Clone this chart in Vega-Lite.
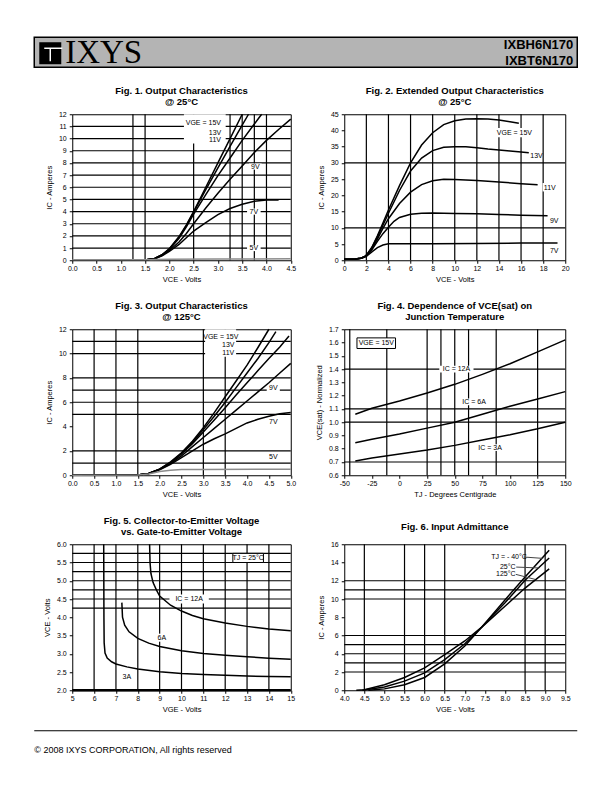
{
"$schema": "https://vega.github.io/schema/vega-lite/v6.json",
"padding": {"left": 33.25, "top": 36.25, "right": 5, "bottom": 5},
"background": "white",
"bounds": "flush",
"spacing": 0,
"vconcat": [
 {
  "width": 543, "height": 30,
  "view": {"fill": "#b4b4b4", "stroke": "black", "strokeWidth": 1.5},
  "layer": [
   {"data": {"values": [{"x": 0.0295, "y": 0.467}]}, "mark": {"type": "square", "filled": true, "color": "black", "size": 484, "opacity": 1},
    "encoding": {"x": {"field": "x", "type": "quantitative", "scale": {"domain": [0, 1], "nice": false, "zero": false}, "axis": null}, "y": {"field": "y", "type": "quantitative", "scale": {"domain": [0, 1], "nice": false, "zero": false}, "axis": null}}},
   {"data": {"values": [{"x": 0.0184, "x2": 0.0516, "y": 0.633, "y2": 0.633}, {"x": 0.0295, "x2": 0.0295, "y": 0.633, "y2": 0.2}]}, "mark": {"type": "rule", "color": "white", "strokeWidth": 1.5},
    "encoding": {"x": {"field": "x", "type": "quantitative", "scale": {"domain": [0, 1], "nice": false, "zero": false}, "axis": null}, "x2": {"field": "x2"}, "y": {"field": "y", "type": "quantitative", "scale": {"domain": [0, 1], "nice": false, "zero": false}, "axis": null}, "y2": {"field": "y2"}}},
   {"data": {"values": [{"x": 0.057, "y": 0.133, "t": "IXYS"}]}, "mark": {"type": "text", "font": "Liberation Serif", "fontSize": 33, "align": "left", "baseline": "alphabetic", "color": "black"},
    "encoding": {"x": {"field": "x", "type": "quantitative", "scale": {"domain": [0, 1], "nice": false, "zero": false}, "axis": null}, "y": {"field": "y", "type": "quantitative", "scale": {"domain": [0, 1], "nice": false, "zero": false}, "axis": null}, "text": {"field": "t"}}},
   {"data": {"values": [{"x": 0.9926, "y": 0.6, "t": "IXBH6N170"}, {"x": 0.9926, "y": 0.075, "t": "IXBT6N170"}]}, "mark": {"type": "text", "font": "Liberation Sans", "fontSize": 13, "fontWeight": "bold", "align": "right", "baseline": "alphabetic", "color": "black"},
    "encoding": {"x": {"field": "x", "type": "quantitative", "scale": {"domain": [0, 1], "nice": false, "zero": false}, "axis": null}, "y": {"field": "y", "type": "quantitative", "scale": {"domain": [0, 1], "nice": false, "zero": false}, "axis": null}, "text": {"field": "t"}}}
  ]
 },
 {"width": 1, "height": 47, "data": {"values": [{}]}, "mark": {"type": "text"}, "encoding": {"text": {"value": ""}}},
 {
  "hconcat": [
   {"width": 37.5, "height": 1, "data": {"values": [{}]}, "mark": {"type": "text"}, "encoding": {"text": {"value": ""}}},
   {
    "width": 218.5, "height": 146,
    "view": {"stroke": "black", "strokeWidth": 1},
    "title": {"text": ["Fig. 1. Output Characteristics", "@ 25°C"]},
    "layer": [
     {"data": {"name": "f1v"}, "mark": {"type": "rule", "color": "black", "strokeWidth": 1.2}, "encoding": {"x": {"field": "x", "type": "quantitative", "title": "VCE - Volts", "scale": {"domain": [0, 4.5], "nice": false, "zero": false}, "axis": {"values": [0, 0.5, 1, 1.5, 2, 2.5, 3, 3.5, 4, 4.5], "format": ".1f"}}}},
     {"data": {"name": "f1h"}, "mark": {"type": "rule", "color": "black", "strokeWidth": 1.2}, "encoding": {"y": {"field": "y", "type": "quantitative", "title": "IC - Amperes", "scale": {"domain": [0, 12], "nice": false, "zero": false}, "axis": {"values": [0, 1, 2, 3, 4, 5, 6, 7, 8, 9, 10, 11, 12]}}}},
     {"data": {"name": "f1b"}, "mark": {"type": "rect", "fill": "white"}, "encoding": {"x": {"field": "x", "type": "quantitative", "title": "VCE - Volts", "scale": {"domain": [0, 4.5], "nice": false, "zero": false}, "axis": {"values": [0, 0.5, 1, 1.5, 2, 2.5, 3, 3.5, 4, 4.5], "format": ".1f"}}, "x2": {"field": "x2"}, "y": {"field": "y", "type": "quantitative", "title": "IC - Amperes", "scale": {"domain": [0, 12], "nice": false, "zero": false}, "axis": {"values": [0, 1, 2, 3, 4, 5, 6, 7, 8, 9, 10, 11, 12]}}, "y2": {"field": "y2"}}},
     {"data": {"name": "f1c"}, "mark": {"type": "line", "strokeWidth": 1.5},
      "encoding": {
       "x": {"field": "x", "type": "quantitative", "title": "VCE - Volts", "scale": {"domain": [0, 4.5], "nice": false, "zero": false}, "axis": {"values": [0, 0.5, 1, 1.5, 2, 2.5, 3, 3.5, 4, 4.5], "format": ".1f"}},
       "y": {"field": "y", "type": "quantitative", "title": "IC - Amperes", "scale": {"domain": [0, 12], "nice": false, "zero": false}, "axis": {"values": [0, 1, 2, 3, 4, 5, 6, 7, 8, 9, 10, 11, 12]}},
       "color": {"field": "s", "type": "nominal", "scale": {"domain": ["15V", "13V", "11V", "9V", "7V", "5V"], "range": ["black", "black", "black", "black", "black", "#8c8c8c"]}, "legend": null}}},
     {"data": {"name": "f1t"}, "mark": {"type": "text"}, "encoding": {"x": {"field": "x", "type": "quantitative", "title": "VCE - Volts", "scale": {"domain": [0, 4.5], "nice": false, "zero": false}, "axis": {"values": [0, 0.5, 1, 1.5, 2, 2.5, 3, 3.5, 4, 4.5], "format": ".1f"}}, "y": {"field": "y", "type": "quantitative", "title": "IC - Amperes", "scale": {"domain": [0, 12], "nice": false, "zero": false}, "axis": {"values": [0, 1, 2, 3, 4, 5, 6, 7, 8, 9, 10, 11, 12]}}, "text": {"field": "t"}}}
    ]
   },
   {"width": 53, "height": 1, "data": {"values": [{}]}, "mark": {"type": "text"}, "encoding": {"text": {"value": ""}}},
   {
    "width": 221, "height": 146,
    "view": {"stroke": "black", "strokeWidth": 1},
    "title": {"text": ["Fig. 2. Extended Output Characteristics", "@ 25°C"]},
    "layer": [
     {"data": {"name": "f2v"}, "mark": {"type": "rule", "color": "black", "strokeWidth": 1.2}, "encoding": {"x": {"field": "x", "type": "quantitative", "title": "VCE - Volts", "scale": {"domain": [0, 20], "nice": false, "zero": false}, "axis": {"values": [0, 2, 4, 6, 8, 10, 12, 14, 16, 18, 20]}}}},
     {"data": {"name": "f2h"}, "mark": {"type": "rule", "color": "black", "strokeWidth": 1.2}, "encoding": {"y": {"field": "y", "type": "quantitative", "title": "IC - Amperes", "scale": {"domain": [0, 45], "nice": false, "zero": false}, "axis": {"values": [0, 5, 10, 15, 20, 25, 30, 35, 40, 45]}}}},
     {"data": {"name": "f2b"}, "mark": {"type": "rect", "fill": "white"}, "encoding": {"x": {"field": "x", "type": "quantitative", "title": "VCE - Volts", "scale": {"domain": [0, 20], "nice": false, "zero": false}, "axis": {"values": [0, 2, 4, 6, 8, 10, 12, 14, 16, 18, 20]}}, "x2": {"field": "x2"}, "y": {"field": "y", "type": "quantitative", "title": "IC - Amperes", "scale": {"domain": [0, 45], "nice": false, "zero": false}, "axis": {"values": [0, 5, 10, 15, 20, 25, 30, 35, 40, 45]}}, "y2": {"field": "y2"}}},
     {"data": {"name": "f2c"}, "mark": {"type": "line", "strokeWidth": 1.5, "color": "black"},
      "encoding": {
       "x": {"field": "x", "type": "quantitative", "title": "VCE - Volts", "scale": {"domain": [0, 20], "nice": false, "zero": false}, "axis": {"values": [0, 2, 4, 6, 8, 10, 12, 14, 16, 18, 20]}},
       "y": {"field": "y", "type": "quantitative", "title": "IC - Amperes", "scale": {"domain": [0, 45], "nice": false, "zero": false}, "axis": {"values": [0, 5, 10, 15, 20, 25, 30, 35, 40, 45]}},
       "detail": {"field": "s", "type": "nominal"}}},
     {"data": {"name": "f2t"}, "mark": {"type": "text"}, "encoding": {"x": {"field": "x", "type": "quantitative", "title": "VCE - Volts", "scale": {"domain": [0, 20], "nice": false, "zero": false}, "axis": {"values": [0, 2, 4, 6, 8, 10, 12, 14, 16, 18, 20]}}, "y": {"field": "y", "type": "quantitative", "title": "IC - Amperes", "scale": {"domain": [0, 45], "nice": false, "zero": false}, "axis": {"values": [0, 5, 10, 15, 20, 25, 30, 35, 40, 45]}}, "text": {"field": "t"}}}
    ]
   }
  ],
  "spacing": 0, "bounds": "flush"
 },
 {"width": 1, "height": 215, "data": {"values": [{}]}, "mark": {"type": "text"}, "encoding": {"text": {"value": ""}}},
 {
  "hconcat": [
   {"width": 37.5, "height": 1, "data": {"values": [{}]}, "mark": {"type": "text"}, "encoding": {"text": {"value": ""}}},
   {
    "width": 218.5, "height": 146,
    "view": {"stroke": "black", "strokeWidth": 1},
    "title": {"text": ["Fig. 3. Output Characteristics", "@ 125°C"]},
    "layer": [
     {"data": {"name": "f3v"}, "mark": {"type": "rule", "color": "black", "strokeWidth": 1.2}, "encoding": {"x": {"field": "x", "type": "quantitative", "title": "VCE - Volts", "scale": {"domain": [0, 5], "nice": false, "zero": false}, "axis": {"values": [0, 0.5, 1, 1.5, 2, 2.5, 3, 3.5, 4, 4.5, 5], "format": ".1f"}}}},
     {"data": {"name": "f3h"}, "mark": {"type": "rule", "color": "black", "strokeWidth": 1.2}, "encoding": {"y": {"field": "y", "type": "quantitative", "title": "IC - Amperes", "scale": {"domain": [0, 12], "nice": false, "zero": false}, "axis": {"values": [0, 2, 4, 6, 8, 10, 12]}}}},
     {"data": {"name": "f3b"}, "mark": {"type": "rect", "fill": "white"}, "encoding": {"x": {"field": "x", "type": "quantitative", "title": "VCE - Volts", "scale": {"domain": [0, 5], "nice": false, "zero": false}, "axis": {"values": [0, 0.5, 1, 1.5, 2, 2.5, 3, 3.5, 4, 4.5, 5], "format": ".1f"}}, "x2": {"field": "x2"}, "y": {"field": "y", "type": "quantitative", "title": "IC - Amperes", "scale": {"domain": [0, 12], "nice": false, "zero": false}, "axis": {"values": [0, 2, 4, 6, 8, 10, 12]}}, "y2": {"field": "y2"}}},
     {"data": {"name": "f3c"}, "mark": {"type": "line", "strokeWidth": 1.5},
      "encoding": {
       "x": {"field": "x", "type": "quantitative", "title": "VCE - Volts", "scale": {"domain": [0, 5], "nice": false, "zero": false}, "axis": {"values": [0, 0.5, 1, 1.5, 2, 2.5, 3, 3.5, 4, 4.5, 5], "format": ".1f"}},
       "y": {"field": "y", "type": "quantitative", "title": "IC - Amperes", "scale": {"domain": [0, 12], "nice": false, "zero": false}, "axis": {"values": [0, 2, 4, 6, 8, 10, 12]}},
       "color": {"field": "s", "type": "nominal", "scale": {"domain": ["15V", "13V", "11V", "9V", "7V", "5V"], "range": ["black", "black", "black", "black", "black", "#555555"]}, "legend": null}}},
     {"data": {"name": "f3t"}, "mark": {"type": "text"}, "encoding": {"x": {"field": "x", "type": "quantitative", "title": "VCE - Volts", "scale": {"domain": [0, 5], "nice": false, "zero": false}, "axis": {"values": [0, 0.5, 1, 1.5, 2, 2.5, 3, 3.5, 4, 4.5, 5], "format": ".1f"}}, "y": {"field": "y", "type": "quantitative", "title": "IC - Amperes", "scale": {"domain": [0, 12], "nice": false, "zero": false}, "axis": {"values": [0, 2, 4, 6, 8, 10, 12]}}, "text": {"field": "t"}}}
    ]
   },
   {"width": 53, "height": 1, "data": {"values": [{}]}, "mark": {"type": "text"}, "encoding": {"text": {"value": ""}}},
   {
    "width": 221, "height": 146,
    "view": {"stroke": "black", "strokeWidth": 1},
    "title": {"text": ["Fig. 4. Dependence of VCE(sat) on", "Junction Temperature"]},
    "layer": [
     {"data": {"name": "f4v"}, "mark": {"type": "rule", "color": "black", "strokeWidth": 1.2}, "encoding": {"x": {"field": "x", "type": "quantitative", "title": "TJ - Degrees Centigrade", "scale": {"domain": [-50, 150], "nice": false, "zero": false}, "axis": {"values": [-50, -25, 0, 25, 50, 75, 100, 125, 150], "labelExpr": "replace(datum.label, '−', '-')"}}}},
     {"data": {"name": "f4h"}, "mark": {"type": "rule", "color": "black", "strokeWidth": 1.2}, "encoding": {"y": {"field": "y", "type": "quantitative", "title": "VCE(sat) - Normalized", "scale": {"domain": [0.6, 1.7], "nice": false, "zero": false}, "axis": {"values": [0.6, 0.7, 0.8, 0.9, 1.0, 1.1, 1.2, 1.3, 1.4, 1.5, 1.6, 1.7], "format": ".1f"}}}},
     {"data": {"name": "f4b"}, "mark": {"type": "rect", "fill": "white"}, "encoding": {"x": {"field": "x", "type": "quantitative", "title": "TJ - Degrees Centigrade", "scale": {"domain": [-50, 150], "nice": false, "zero": false}, "axis": {"values": [-50, -25, 0, 25, 50, 75, 100, 125, 150], "labelExpr": "replace(datum.label, '−', '-')"}}, "x2": {"field": "x2"}, "y": {"field": "y", "type": "quantitative", "title": "VCE(sat) - Normalized", "scale": {"domain": [0.6, 1.7], "nice": false, "zero": false}, "axis": {"values": [0.6, 0.7, 0.8, 0.9, 1.0, 1.1, 1.2, 1.3, 1.4, 1.5, 1.6, 1.7], "format": ".1f"}}, "y2": {"field": "y2"}}},
     {"data": {"name": "f4k"}, "mark": {"type": "rect", "fill": "white", "stroke": "black", "strokeWidth": 1}, "encoding": {"x": {"field": "x", "type": "quantitative", "title": "TJ - Degrees Centigrade", "scale": {"domain": [-50, 150], "nice": false, "zero": false}, "axis": {"values": [-50, -25, 0, 25, 50, 75, 100, 125, 150], "labelExpr": "replace(datum.label, '−', '-')"}}, "x2": {"field": "x2"}, "y": {"field": "y", "type": "quantitative", "title": "VCE(sat) - Normalized", "scale": {"domain": [0.6, 1.7], "nice": false, "zero": false}, "axis": {"values": [0.6, 0.7, 0.8, 0.9, 1.0, 1.1, 1.2, 1.3, 1.4, 1.5, 1.6, 1.7], "format": ".1f"}}, "y2": {"field": "y2"}}},
     {"data": {"name": "f4c"}, "mark": {"type": "line", "strokeWidth": 1.5, "color": "black"},
      "encoding": {
       "x": {"field": "x", "type": "quantitative", "title": "TJ - Degrees Centigrade", "scale": {"domain": [-50, 150], "nice": false, "zero": false}, "axis": {"values": [-50, -25, 0, 25, 50, 75, 100, 125, 150], "labelExpr": "replace(datum.label, '−', '-')"}},
       "y": {"field": "y", "type": "quantitative", "title": "VCE(sat) - Normalized", "scale": {"domain": [0.6, 1.7], "nice": false, "zero": false}, "axis": {"values": [0.6, 0.7, 0.8, 0.9, 1.0, 1.1, 1.2, 1.3, 1.4, 1.5, 1.6, 1.7], "format": ".1f"}},
       "detail": {"field": "s", "type": "nominal"}}},
     {"data": {"name": "f4t"}, "mark": {"type": "text"}, "encoding": {"x": {"field": "x", "type": "quantitative", "title": "TJ - Degrees Centigrade", "scale": {"domain": [-50, 150], "nice": false, "zero": false}, "axis": {"values": [-50, -25, 0, 25, 50, 75, 100, 125, 150], "labelExpr": "replace(datum.label, '−', '-')"}}, "y": {"field": "y", "type": "quantitative", "title": "VCE(sat) - Normalized", "scale": {"domain": [0.6, 1.7], "nice": false, "zero": false}, "axis": {"values": [0.6, 0.7, 0.8, 0.9, 1.0, 1.1, 1.2, 1.3, 1.4, 1.5, 1.6, 1.7], "format": ".1f"}}, "text": {"field": "t"}}}
    ]
   }
  ],
  "spacing": 0, "bounds": "flush"
 },
 {"width": 1, "height": 215, "data": {"values": [{}]}, "mark": {"type": "text"}, "encoding": {"text": {"value": ""}}},
 {
  "hconcat": [
   {"width": 37.5, "height": 1, "data": {"values": [{}]}, "mark": {"type": "text"}, "encoding": {"text": {"value": ""}}},
   {
    "width": 218.5, "height": 146,
    "view": {"stroke": "black", "strokeWidth": 1},
    "title": {"text": ["Fig. 5. Collector-to-Emitter Voltage", "vs. Gate-to-Emitter Voltage"]},
    "layer": [
     {"data": {"name": "f5v"}, "mark": {"type": "rule", "color": "black", "strokeWidth": 1.2}, "encoding": {"x": {"field": "x", "type": "quantitative", "title": "VGE - Volts", "scale": {"domain": [5, 15], "nice": false, "zero": false}, "axis": {"values": [5, 6, 7, 8, 9, 10, 11, 12, 13, 14, 15]}}}},
     {"data": {"name": "f5h"}, "mark": {"type": "rule", "color": "black", "strokeWidth": 1.2}, "encoding": {"y": {"field": "y", "type": "quantitative", "title": "VCE - Volts", "scale": {"domain": [2, 6], "nice": false, "zero": false}, "axis": {"values": [2, 2.5, 3, 3.5, 4, 4.5, 5, 5.5, 6], "format": ".1f"}}}},
     {"data": {"name": "f5z"}, "mark": {"type": "rule", "color": "black", "strokeWidth": 2.5}, "encoding": {"y": {"field": "y", "type": "quantitative", "title": "VCE - Volts", "scale": {"domain": [2, 6], "nice": false, "zero": false}, "axis": {"values": [2, 2.5, 3, 3.5, 4, 4.5, 5, 5.5, 6], "format": ".1f"}}}},
     {"data": {"name": "f5b"}, "mark": {"type": "rect", "fill": "white"}, "encoding": {"x": {"field": "x", "type": "quantitative", "title": "VGE - Volts", "scale": {"domain": [5, 15], "nice": false, "zero": false}, "axis": {"values": [5, 6, 7, 8, 9, 10, 11, 12, 13, 14, 15]}}, "x2": {"field": "x2"}, "y": {"field": "y", "type": "quantitative", "title": "VCE - Volts", "scale": {"domain": [2, 6], "nice": false, "zero": false}, "axis": {"values": [2, 2.5, 3, 3.5, 4, 4.5, 5, 5.5, 6], "format": ".1f"}}, "y2": {"field": "y2"}}},
     {"data": {"name": "f5k"}, "mark": {"type": "rect", "fill": "white", "stroke": "black", "strokeWidth": 1}, "encoding": {"x": {"field": "x", "type": "quantitative", "title": "VGE - Volts", "scale": {"domain": [5, 15], "nice": false, "zero": false}, "axis": {"values": [5, 6, 7, 8, 9, 10, 11, 12, 13, 14, 15]}}, "x2": {"field": "x2"}, "y": {"field": "y", "type": "quantitative", "title": "VCE - Volts", "scale": {"domain": [2, 6], "nice": false, "zero": false}, "axis": {"values": [2, 2.5, 3, 3.5, 4, 4.5, 5, 5.5, 6], "format": ".1f"}}, "y2": {"field": "y2"}}},
     {"data": {"name": "f5c"}, "mark": {"type": "line", "strokeWidth": 1.5, "color": "black"},
      "encoding": {
       "x": {"field": "x", "type": "quantitative", "title": "VGE - Volts", "scale": {"domain": [5, 15], "nice": false, "zero": false}, "axis": {"values": [5, 6, 7, 8, 9, 10, 11, 12, 13, 14, 15]}},
       "y": {"field": "y", "type": "quantitative", "title": "VCE - Volts", "scale": {"domain": [2, 6], "nice": false, "zero": false}, "axis": {"values": [2, 2.5, 3, 3.5, 4, 4.5, 5, 5.5, 6], "format": ".1f"}},
       "detail": {"field": "s", "type": "nominal"}}},
     {"data": {"name": "f5t"}, "mark": {"type": "text"}, "encoding": {"x": {"field": "x", "type": "quantitative", "title": "VGE - Volts", "scale": {"domain": [5, 15], "nice": false, "zero": false}, "axis": {"values": [5, 6, 7, 8, 9, 10, 11, 12, 13, 14, 15]}}, "y": {"field": "y", "type": "quantitative", "title": "VCE - Volts", "scale": {"domain": [2, 6], "nice": false, "zero": false}, "axis": {"values": [2, 2.5, 3, 3.5, 4, 4.5, 5, 5.5, 6], "format": ".1f"}}, "text": {"field": "t"}}}
    ]
   },
   {"width": 53, "height": 1, "data": {"values": [{}]}, "mark": {"type": "text"}, "encoding": {"text": {"value": ""}}},
   {
    "width": 221, "height": 146,
    "view": {"stroke": "black", "strokeWidth": 1},
    "title": {"text": "Fig. 6. Input Admittance", "offset": 8.8},
    "layer": [
     {"data": {"name": "f6v"}, "mark": {"type": "rule", "color": "black", "strokeWidth": 1.2}, "encoding": {"x": {"field": "x", "type": "quantitative", "title": "VGE - Volts", "scale": {"domain": [4, 9.5], "nice": false, "zero": false}, "axis": {"values": [4, 4.5, 5, 5.5, 6, 6.5, 7, 7.5, 8, 8.5, 9, 9.5], "format": ".1f"}}}},
     {"data": {"name": "f6h"}, "mark": {"type": "rule", "color": "black", "strokeWidth": 1.2}, "encoding": {"y": {"field": "y", "type": "quantitative", "title": "IC - Amperes", "scale": {"domain": [0, 16], "nice": false, "zero": false}, "axis": {"values": [0, 2, 4, 6, 8, 10, 12, 14, 16]}}}},
     {"data": {"name": "f6c"}, "mark": {"type": "line", "strokeWidth": 1.5, "color": "black"},
      "encoding": {
       "x": {"field": "x", "type": "quantitative", "title": "VGE - Volts", "scale": {"domain": [4, 9.5], "nice": false, "zero": false}, "axis": {"values": [4, 4.5, 5, 5.5, 6, 6.5, 7, 7.5, 8, 8.5, 9, 9.5], "format": ".1f"}},
       "y": {"field": "y", "type": "quantitative", "title": "IC - Amperes", "scale": {"domain": [0, 16], "nice": false, "zero": false}, "axis": {"values": [0, 2, 4, 6, 8, 10, 12, 14, 16]}},
       "detail": {"field": "s", "type": "nominal"}}},
     {"data": {"name": "f6l"}, "mark": {"type": "rule", "color": "#444444", "strokeWidth": 1}, "encoding": {"x": {"field": "x", "type": "quantitative", "title": "VGE - Volts", "scale": {"domain": [4, 9.5], "nice": false, "zero": false}, "axis": {"values": [4, 4.5, 5, 5.5, 6, 6.5, 7, 7.5, 8, 8.5, 9, 9.5], "format": ".1f"}}, "x2": {"field": "x2"}, "y": {"field": "y", "type": "quantitative", "title": "IC - Amperes", "scale": {"domain": [0, 16], "nice": false, "zero": false}, "axis": {"values": [0, 2, 4, 6, 8, 10, 12, 14, 16]}}, "y2": {"field": "y2"}}},
     {"data": {"name": "f6t"}, "mark": {"type": "text"}, "encoding": {"x": {"field": "x", "type": "quantitative", "title": "VGE - Volts", "scale": {"domain": [4, 9.5], "nice": false, "zero": false}, "axis": {"values": [4, 4.5, 5, 5.5, 6, 6.5, 7, 7.5, 8, 8.5, 9, 9.5], "format": ".1f"}}, "y": {"field": "y", "type": "quantitative", "title": "IC - Amperes", "scale": {"domain": [0, 16], "nice": false, "zero": false}, "axis": {"values": [0, 2, 4, 6, 8, 10, 12, 14, 16]}}, "text": {"field": "t"}}}
    ]
   }
  ],
  "spacing": 0, "bounds": "flush"
 },
 {"width": 1, "height": 186, "data": {"values": [{}]}, "mark": {"type": "text"}, "encoding": {"text": {"value": ""}}},
 {
  "width": 543, "height": 1,
  "view": {"fill": "black", "stroke": null},
  "title": {"text": "© 2008 IXYS CORPORATION,  All rights reserved", "orient": "bottom", "anchor": "start", "frame": "group", "fontSize": 9, "fontWeight": "normal", "offset": 12, "baseline": "top"},
  "data": {"values": [{}]}, "mark": {"type": "text"}, "encoding": {"text": {"value": ""}}
 }
],
"datasets": {
 "f1v": [{"x": 1.25}, {"x": 1.5}, {"x": 2.5}, {"x": 3.25}, {"x": 3.5}, {"x": 3.75}, {"x": 4.0}],
 "f1h": [{"y": 1}, {"y": 2}, {"y": 3}, {"y": 4}, {"y": 5}, {"y": 6}, {"y": 7}, {"y": 8}, {"y": 9}, {"y": 10}, {"y": 11}],
 "f1b": [{"x": 2.3, "x2": 3.16, "y": 9.6, "y2": 12}, {"x": 3.64, "x2": 3.9, "y": 7.45, "y2": 7.95}, {"x": 3.6, "x2": 3.88, "y": 3.75, "y2": 4.25}, {"x": 3.6, "x2": 3.88, "y": 0.75, "y2": 1.25}],
 "f1t": [{"t": "VGE = 15V", "x": 2.7, "y": 11.25}, {"t": "13V", "x": 2.94, "y": 10.5}, {"t": "11V", "x": 2.94, "y": 9.9}, {"t": "9V", "x": 3.77, "y": 7.7}, {"t": "7V", "x": 3.74, "y": 4.0}, {"t": "5V", "x": 3.74, "y": 1.0}],
 "f1c": [
  {"s": "15V", "x": 0, "y": 0}, {"s": "15V", "x": 1.3, "y": 0}, {"s": "15V", "x": 1.5, "y": 0.03}, {"s": "15V", "x": 1.7, "y": 0.15}, {"s": "15V", "x": 1.85, "y": 0.45}, {"s": "15V", "x": 2.0, "y": 0.95}, {"s": "15V", "x": 2.2, "y": 1.95}, {"s": "15V", "x": 2.35, "y": 2.9}, {"s": "15V", "x": 2.5, "y": 4.0}, {"s": "15V", "x": 2.75, "y": 6.0}, {"s": "15V", "x": 3.0, "y": 8.0}, {"s": "15V", "x": 3.25, "y": 10.0}, {"s": "15V", "x": 3.5, "y": 12.0},
  {"s": "13V", "x": 0, "y": 0}, {"s": "13V", "x": 1.3, "y": 0}, {"s": "13V", "x": 1.5, "y": 0.03}, {"s": "13V", "x": 1.7, "y": 0.15}, {"s": "13V", "x": 1.85, "y": 0.45}, {"s": "13V", "x": 2.0, "y": 0.92}, {"s": "13V", "x": 2.2, "y": 1.9}, {"s": "13V", "x": 2.35, "y": 2.85}, {"s": "13V", "x": 2.5, "y": 3.95}, {"s": "13V", "x": 2.75, "y": 5.8}, {"s": "13V", "x": 3.0, "y": 7.6}, {"s": "13V", "x": 3.25, "y": 9.35}, {"s": "13V", "x": 3.5, "y": 11.1}, {"s": "13V", "x": 3.63, "y": 12.0},
  {"s": "11V", "x": 0, "y": 0}, {"s": "11V", "x": 1.3, "y": 0}, {"s": "11V", "x": 1.5, "y": 0.03}, {"s": "11V", "x": 1.7, "y": 0.15}, {"s": "11V", "x": 1.85, "y": 0.44}, {"s": "11V", "x": 2.0, "y": 0.88}, {"s": "11V", "x": 2.2, "y": 1.8}, {"s": "11V", "x": 2.35, "y": 2.75}, {"s": "11V", "x": 2.5, "y": 3.8}, {"s": "11V", "x": 2.75, "y": 5.4}, {"s": "11V", "x": 3.0, "y": 6.95}, {"s": "11V", "x": 3.25, "y": 8.4}, {"s": "11V", "x": 3.5, "y": 9.85}, {"s": "11V", "x": 3.75, "y": 11.2}, {"s": "11V", "x": 3.9, "y": 12.0},
  {"s": "9V", "x": 0, "y": 0}, {"s": "9V", "x": 1.3, "y": 0}, {"s": "9V", "x": 1.5, "y": 0.03}, {"s": "9V", "x": 1.7, "y": 0.14}, {"s": "9V", "x": 1.85, "y": 0.4}, {"s": "9V", "x": 2.0, "y": 0.8}, {"s": "9V", "x": 2.2, "y": 1.5}, {"s": "9V", "x": 2.35, "y": 2.2}, {"s": "9V", "x": 2.5, "y": 3.0}, {"s": "9V", "x": 2.75, "y": 4.3}, {"s": "9V", "x": 3.0, "y": 5.5}, {"s": "9V", "x": 3.25, "y": 6.65}, {"s": "9V", "x": 3.5, "y": 7.75}, {"s": "9V", "x": 3.75, "y": 8.85}, {"s": "9V", "x": 4.0, "y": 9.85}, {"s": "9V", "x": 4.25, "y": 10.75}, {"s": "9V", "x": 4.5, "y": 11.6},
  {"s": "7V", "x": 0, "y": 0}, {"s": "7V", "x": 1.3, "y": 0}, {"s": "7V", "x": 1.5, "y": 0.03}, {"s": "7V", "x": 1.7, "y": 0.13}, {"s": "7V", "x": 1.85, "y": 0.37}, {"s": "7V", "x": 2.0, "y": 0.72}, {"s": "7V", "x": 2.2, "y": 1.3}, {"s": "7V", "x": 2.35, "y": 1.85}, {"s": "7V", "x": 2.5, "y": 2.4}, {"s": "7V", "x": 2.75, "y": 3.1}, {"s": "7V", "x": 3.0, "y": 3.75}, {"s": "7V", "x": 3.25, "y": 4.25}, {"s": "7V", "x": 3.5, "y": 4.6}, {"s": "7V", "x": 3.75, "y": 4.85}, {"s": "7V", "x": 4.0, "y": 4.95}, {"s": "7V", "x": 4.25, "y": 4.95},
  {"s": "5V", "x": 0, "y": 0.04}, {"s": "5V", "x": 1.5, "y": 0.05}, {"s": "5V", "x": 2.0, "y": 0.08}, {"s": "5V", "x": 3.0, "y": 0.1}, {"s": "5V", "x": 4.5, "y": 0.12}
 ],
 "f2v": [{"x": 2}, {"x": 4}, {"x": 6}, {"x": 8}, {"x": 10}, {"x": 12}, {"x": 14}, {"x": 16}, {"x": 18}],
 "f2h": [{"y": 10}, {"y": 30}],
 "f2b": [{"x": 13.8, "x2": 17.0, "y": 37.9, "y2": 40.8}, {"x": 17.95, "x2": 19.25, "y": 21.2, "y2": 23.8}],
 "f2t": [{"t": "VGE = 15V", "x": 15.4, "y": 39.3}, {"t": "13V", "x": 17.4, "y": 32.1}, {"t": "11V", "x": 18.6, "y": 22.4}, {"t": "9V", "x": 19.0, "y": 12.0}, {"t": "7V", "x": 19.0, "y": 2.9}],
 "f2c": [
  {"s": "15V", "x": 0, "y": 0.3}, {"s": "15V", "x": 1.0, "y": 0.4}, {"s": "15V", "x": 1.5, "y": 0.6}, {"s": "15V", "x": 1.8, "y": 1.0}, {"s": "15V", "x": 2.0, "y": 1.6}, {"s": "15V", "x": 2.5, "y": 4.0}, {"s": "15V", "x": 3.0, "y": 7.5}, {"s": "15V", "x": 3.5, "y": 11.5}, {"s": "15V", "x": 4.0, "y": 15.5}, {"s": "15V", "x": 5.0, "y": 23.0}, {"s": "15V", "x": 6.0, "y": 30.0}, {"s": "15V", "x": 7.0, "y": 35.5}, {"s": "15V", "x": 8.0, "y": 39.3}, {"s": "15V", "x": 9.0, "y": 41.8}, {"s": "15V", "x": 10.0, "y": 43.0}, {"s": "15V", "x": 11.0, "y": 43.5}, {"s": "15V", "x": 12.0, "y": 43.6}, {"s": "15V", "x": 13.0, "y": 43.5}, {"s": "15V", "x": 14.0, "y": 43.2}, {"s": "15V", "x": 15.0, "y": 42.7}, {"s": "15V", "x": 15.8, "y": 42.2},
  {"s": "13V", "x": 0, "y": 0.3}, {"s": "13V", "x": 1.0, "y": 0.4}, {"s": "13V", "x": 1.5, "y": 0.6}, {"s": "13V", "x": 1.8, "y": 1.0}, {"s": "13V", "x": 2.0, "y": 1.5}, {"s": "13V", "x": 2.5, "y": 3.8}, {"s": "13V", "x": 3.0, "y": 7.2}, {"s": "13V", "x": 3.5, "y": 10.8}, {"s": "13V", "x": 4.0, "y": 14.5}, {"s": "13V", "x": 5.0, "y": 21.5}, {"s": "13V", "x": 6.0, "y": 27.5}, {"s": "13V", "x": 7.0, "y": 31.5}, {"s": "13V", "x": 8.0, "y": 33.8}, {"s": "13V", "x": 9.0, "y": 34.8}, {"s": "13V", "x": 10.0, "y": 35.0}, {"s": "13V", "x": 11.0, "y": 35.0}, {"s": "13V", "x": 12.0, "y": 34.7}, {"s": "13V", "x": 13.0, "y": 34.3}, {"s": "13V", "x": 14.0, "y": 34.0}, {"s": "13V", "x": 15.0, "y": 33.7}, {"s": "13V", "x": 16.0, "y": 33.4}, {"s": "13V", "x": 16.7, "y": 33.1},
  {"s": "11V", "x": 0, "y": 0.3}, {"s": "11V", "x": 1.0, "y": 0.4}, {"s": "11V", "x": 1.5, "y": 0.6}, {"s": "11V", "x": 1.8, "y": 1.0}, {"s": "11V", "x": 2.0, "y": 1.4}, {"s": "11V", "x": 2.5, "y": 3.5}, {"s": "11V", "x": 3.0, "y": 6.5}, {"s": "11V", "x": 3.5, "y": 9.8}, {"s": "11V", "x": 4.0, "y": 12.8}, {"s": "11V", "x": 5.0, "y": 17.5}, {"s": "11V", "x": 6.0, "y": 21.0}, {"s": "11V", "x": 7.0, "y": 23.3}, {"s": "11V", "x": 8.0, "y": 24.5}, {"s": "11V", "x": 9.0, "y": 25.0}, {"s": "11V", "x": 10.0, "y": 24.9}, {"s": "11V", "x": 12.0, "y": 24.6}, {"s": "11V", "x": 14.0, "y": 24.1}, {"s": "11V", "x": 16.0, "y": 23.6}, {"s": "11V", "x": 17.5, "y": 23.3},
  {"s": "9V", "x": 0, "y": 0.3}, {"s": "9V", "x": 1.0, "y": 0.4}, {"s": "9V", "x": 1.5, "y": 0.6}, {"s": "9V", "x": 1.8, "y": 1.0}, {"s": "9V", "x": 2.0, "y": 1.3}, {"s": "9V", "x": 2.5, "y": 3.2}, {"s": "9V", "x": 3.0, "y": 5.8}, {"s": "9V", "x": 3.5, "y": 8.2}, {"s": "9V", "x": 4.0, "y": 10.2}, {"s": "9V", "x": 4.5, "y": 12.0}, {"s": "9V", "x": 5.0, "y": 13.2}, {"s": "9V", "x": 6.0, "y": 14.2}, {"s": "9V", "x": 7.0, "y": 14.5}, {"s": "9V", "x": 8.0, "y": 14.6}, {"s": "9V", "x": 10.0, "y": 14.4}, {"s": "9V", "x": 12.0, "y": 14.3}, {"s": "9V", "x": 14.0, "y": 14.1}, {"s": "9V", "x": 16.0, "y": 13.9}, {"s": "9V", "x": 18.4, "y": 13.7},
  {"s": "7V", "x": 0, "y": 0.3}, {"s": "7V", "x": 1.0, "y": 0.4}, {"s": "7V", "x": 1.5, "y": 0.6}, {"s": "7V", "x": 1.8, "y": 1.0}, {"s": "7V", "x": 2.0, "y": 1.2}, {"s": "7V", "x": 2.5, "y": 2.6}, {"s": "7V", "x": 3.0, "y": 3.9}, {"s": "7V", "x": 3.5, "y": 4.7}, {"s": "7V", "x": 4.0, "y": 5.05}, {"s": "7V", "x": 5.0, "y": 5.1}, {"s": "7V", "x": 8.0, "y": 5.1}, {"s": "7V", "x": 12.0, "y": 5.2}, {"s": "7V", "x": 16.0, "y": 5.3}, {"s": "7V", "x": 19.3, "y": 5.3}
 ],
 "f3v": [{"x": 0.5}, {"x": 1.0}, {"x": 1.5}, {"x": 3.0}, {"x": 3.5}],
 "f3h": [{"y": 1}, {"y": 2}, {"y": 5}, {"y": 6}, {"y": 7}, {"y": 8}, {"y": 10}, {"y": 11}],
 "f3b": [{"x": 3.04, "x2": 3.75, "y": 9.75, "y2": 12}, {"x": 4.45, "x2": 4.75, "y": 6.8, "y2": 7.5}],
 "f3t": [{"t": "VGE = 15V", "x": 3.4, "y": 11.37}, {"t": "13V", "x": 3.57, "y": 10.7}, {"t": "11V", "x": 3.57, "y": 10.08}, {"t": "9V", "x": 4.6, "y": 7.15}, {"t": "7V", "x": 4.6, "y": 4.4}, {"t": "5V", "x": 4.6, "y": 1.5}],
 "f3c": [
  {"s": "15V", "x": 0, "y": 0}, {"s": "15V", "x": 1.0, "y": 0}, {"s": "15V", "x": 1.5, "y": 0.03}, {"s": "15V", "x": 1.75, "y": 0.15}, {"s": "15V", "x": 2.0, "y": 0.5}, {"s": "15V", "x": 2.25, "y": 1.1}, {"s": "15V", "x": 2.5, "y": 1.85}, {"s": "15V", "x": 2.75, "y": 2.8}, {"s": "15V", "x": 3.0, "y": 3.9}, {"s": "15V", "x": 3.25, "y": 5.15}, {"s": "15V", "x": 3.5, "y": 6.45}, {"s": "15V", "x": 3.75, "y": 7.75}, {"s": "15V", "x": 4.0, "y": 9.05}, {"s": "15V", "x": 4.25, "y": 10.5}, {"s": "15V", "x": 4.5, "y": 12.0},
  {"s": "13V", "x": 0, "y": 0}, {"s": "13V", "x": 1.0, "y": 0}, {"s": "13V", "x": 1.5, "y": 0.03}, {"s": "13V", "x": 1.75, "y": 0.15}, {"s": "13V", "x": 2.0, "y": 0.5}, {"s": "13V", "x": 2.25, "y": 1.05}, {"s": "13V", "x": 2.5, "y": 1.8}, {"s": "13V", "x": 2.75, "y": 2.7}, {"s": "13V", "x": 3.0, "y": 3.75}, {"s": "13V", "x": 3.25, "y": 4.85}, {"s": "13V", "x": 3.5, "y": 6.0}, {"s": "13V", "x": 3.75, "y": 7.2}, {"s": "13V", "x": 4.0, "y": 8.4}, {"s": "13V", "x": 4.25, "y": 9.6}, {"s": "13V", "x": 4.5, "y": 10.9}, {"s": "13V", "x": 4.66, "y": 11.8},
  {"s": "11V", "x": 0, "y": 0}, {"s": "11V", "x": 1.0, "y": 0}, {"s": "11V", "x": 1.5, "y": 0.03}, {"s": "11V", "x": 1.75, "y": 0.15}, {"s": "11V", "x": 2.0, "y": 0.5}, {"s": "11V", "x": 2.25, "y": 1.0}, {"s": "11V", "x": 2.5, "y": 1.75}, {"s": "11V", "x": 2.75, "y": 2.6}, {"s": "11V", "x": 3.0, "y": 3.55}, {"s": "11V", "x": 3.25, "y": 4.55}, {"s": "11V", "x": 3.5, "y": 5.55}, {"s": "11V", "x": 3.75, "y": 6.6}, {"s": "11V", "x": 4.0, "y": 7.6}, {"s": "11V", "x": 4.25, "y": 8.6}, {"s": "11V", "x": 4.5, "y": 9.6}, {"s": "11V", "x": 4.75, "y": 10.55}, {"s": "11V", "x": 4.96, "y": 11.45},
  {"s": "9V", "x": 0, "y": 0}, {"s": "9V", "x": 1.0, "y": 0}, {"s": "9V", "x": 1.5, "y": 0.03}, {"s": "9V", "x": 1.75, "y": 0.15}, {"s": "9V", "x": 2.0, "y": 0.48}, {"s": "9V", "x": 2.25, "y": 0.95}, {"s": "9V", "x": 2.5, "y": 1.6}, {"s": "9V", "x": 2.75, "y": 2.35}, {"s": "9V", "x": 3.0, "y": 3.1}, {"s": "9V", "x": 3.25, "y": 3.85}, {"s": "9V", "x": 3.5, "y": 4.6}, {"s": "9V", "x": 3.75, "y": 5.35}, {"s": "9V", "x": 4.0, "y": 6.1}, {"s": "9V", "x": 4.25, "y": 6.85}, {"s": "9V", "x": 4.5, "y": 7.6}, {"s": "9V", "x": 4.75, "y": 8.4}, {"s": "9V", "x": 5.0, "y": 9.2},
  {"s": "7V", "x": 0, "y": 0}, {"s": "7V", "x": 1.0, "y": 0}, {"s": "7V", "x": 1.5, "y": 0.03}, {"s": "7V", "x": 1.75, "y": 0.14}, {"s": "7V", "x": 2.0, "y": 0.45}, {"s": "7V", "x": 2.25, "y": 0.9}, {"s": "7V", "x": 2.5, "y": 1.45}, {"s": "7V", "x": 2.75, "y": 2.0}, {"s": "7V", "x": 3.0, "y": 2.55}, {"s": "7V", "x": 3.25, "y": 3.0}, {"s": "7V", "x": 3.5, "y": 3.4}, {"s": "7V", "x": 3.75, "y": 3.85}, {"s": "7V", "x": 4.0, "y": 4.3}, {"s": "7V", "x": 4.25, "y": 4.6}, {"s": "7V", "x": 4.5, "y": 4.85}, {"s": "7V", "x": 4.75, "y": 5.05}, {"s": "7V", "x": 5.0, "y": 5.15},
  {"s": "5V", "x": 0, "y": 0}, {"s": "5V", "x": 1.5, "y": 0.02}, {"s": "5V", "x": 1.75, "y": 0.1}, {"s": "5V", "x": 2.0, "y": 0.3}, {"s": "5V", "x": 2.25, "y": 0.42}, {"s": "5V", "x": 2.5, "y": 0.47}, {"s": "5V", "x": 3.0, "y": 0.48}, {"s": "5V", "x": 5.0, "y": 0.5}
 ],
 "f4v": [{"x": -45}, {"x": -11.5}, {"x": 25}, {"x": 37.5}, {"x": 50}, {"x": 62.5}, {"x": 87.5}, {"x": 125}],
 "f4h": [{"y": 0.7}, {"y": 1.0}, {"y": 1.1}, {"y": 1.4}],
 "f4b": [{"x": 36, "x2": 67, "y": 1.375, "y2": 1.425}, {"x": 54, "x2": 81, "y": 1.128, "y2": 1.178}, {"x": 68, "x2": 96, "y": 0.783, "y2": 0.833}],
 "f4k": [{"x": -38.5, "x2": -3.6, "y": 1.555, "y2": 1.635}],
 "f4t": [{"t": "VGE = 15V", "x": -21, "y": 1.595}, {"t": "IC = 12A", "x": 51.5, "y": 1.4}, {"t": "IC = 6A", "x": 67.5, "y": 1.153}, {"t": "IC = 3A", "x": 82, "y": 0.808}],
 "f4c": [
  {"s": "12A", "x": -40, "y": 1.06}, {"s": "12A", "x": -25, "y": 1.105}, {"s": "12A", "x": 0, "y": 1.16}, {"s": "12A", "x": 25, "y": 1.22}, {"s": "12A", "x": 50, "y": 1.285}, {"s": "12A", "x": 75, "y": 1.36}, {"s": "12A", "x": 100, "y": 1.44}, {"s": "12A", "x": 125, "y": 1.53}, {"s": "12A", "x": 150, "y": 1.62},
  {"s": "6A", "x": -40, "y": 0.845}, {"s": "6A", "x": -25, "y": 0.872}, {"s": "6A", "x": 0, "y": 0.91}, {"s": "6A", "x": 25, "y": 0.955}, {"s": "6A", "x": 50, "y": 1.0}, {"s": "6A", "x": 75, "y": 1.06}, {"s": "6A", "x": 100, "y": 1.12}, {"s": "6A", "x": 125, "y": 1.175}, {"s": "6A", "x": 150, "y": 1.23},
  {"s": "3A", "x": -40, "y": 0.707}, {"s": "3A", "x": -25, "y": 0.73}, {"s": "3A", "x": 0, "y": 0.76}, {"s": "3A", "x": 25, "y": 0.79}, {"s": "3A", "x": 50, "y": 0.825}, {"s": "3A", "x": 75, "y": 0.865}, {"s": "3A", "x": 100, "y": 0.905}, {"s": "3A", "x": 125, "y": 0.95}, {"s": "3A", "x": 150, "y": 1.0}
 ],
 "f5v": [{"x": 6}, {"x": 7}, {"x": 8}, {"x": 9}, {"x": 10}, {"x": 11}, {"x": 12}, {"x": 13}, {"x": 14}],
 "f5h": [{"y": 4.25}, {"y": 4.5}, {"y": 4.75}, {"y": 5.0}, {"y": 5.25}, {"y": 5.5}, {"y": 5.75}],
 "f5z": [{"y": 2.0}],
 "f5b": [{"x": 9.45, "x2": 11.25, "y": 4.38, "y2": 4.62}, {"x": 8.8, "x2": 9.4, "y": 3.33, "y2": 3.55}],
 "f5k": [{"x": 12.35, "x2": 13.75, "y": 5.5, "y2": 5.75}],
 "f5t": [{"t": "TJ = 25°C", "x": 13.05, "y": 5.625}, {"t": "IC = 12A", "x": 10.35, "y": 4.5}, {"t": "6A", "x": 9.1, "y": 3.44}, {"t": "3A", "x": 7.5, "y": 2.37}],
 "f5c": [
  {"s": "3A", "x": 6.44, "y": 6.0}, {"s": "3A", "x": 6.45, "y": 4.0}, {"s": "3A", "x": 6.46, "y": 3.3}, {"s": "3A", "x": 6.5, "y": 3.02}, {"s": "3A", "x": 6.6, "y": 2.88}, {"s": "3A", "x": 6.8, "y": 2.78}, {"s": "3A", "x": 7.0, "y": 2.72}, {"s": "3A", "x": 7.5, "y": 2.64}, {"s": "3A", "x": 8.0, "y": 2.58}, {"s": "3A", "x": 9.0, "y": 2.51}, {"s": "3A", "x": 10.0, "y": 2.46}, {"s": "3A", "x": 11.0, "y": 2.43}, {"s": "3A", "x": 12.0, "y": 2.41}, {"s": "3A", "x": 13.0, "y": 2.39}, {"s": "3A", "x": 14.0, "y": 2.38}, {"s": "3A", "x": 15.0, "y": 2.37},
  {"s": "6A", "x": 7.27, "y": 4.4}, {"s": "6A", "x": 7.3, "y": 4.0}, {"s": "6A", "x": 7.4, "y": 3.78}, {"s": "6A", "x": 7.6, "y": 3.6}, {"s": "6A", "x": 8.0, "y": 3.42}, {"s": "6A", "x": 8.5, "y": 3.29}, {"s": "6A", "x": 9.0, "y": 3.2}, {"s": "6A", "x": 10.0, "y": 3.08}, {"s": "6A", "x": 11.0, "y": 3.01}, {"s": "6A", "x": 12.0, "y": 2.96}, {"s": "6A", "x": 13.0, "y": 2.92}, {"s": "6A", "x": 14.0, "y": 2.88}, {"s": "6A", "x": 15.0, "y": 2.85},
  {"s": "12A", "x": 8.54, "y": 6.0}, {"s": "12A", "x": 8.56, "y": 5.5}, {"s": "12A", "x": 8.6, "y": 5.2}, {"s": "12A", "x": 8.7, "y": 4.95}, {"s": "12A", "x": 8.85, "y": 4.75}, {"s": "12A", "x": 9.0, "y": 4.58}, {"s": "12A", "x": 9.5, "y": 4.33}, {"s": "12A", "x": 10.0, "y": 4.17}, {"s": "12A", "x": 10.5, "y": 4.05}, {"s": "12A", "x": 11.0, "y": 3.96}, {"s": "12A", "x": 12.0, "y": 3.84}, {"s": "12A", "x": 13.0, "y": 3.75}, {"s": "12A", "x": 14.0, "y": 3.68}, {"s": "12A", "x": 15.0, "y": 3.63}
 ],
 "f6v": [{"x": 4.5}, {"x": 5.5}, {"x": 6.0}, {"x": 6.5}, {"x": 8.5}, {"x": 9.0}],
 "f6h": [{"y": 2}, {"y": 3}, {"y": 4}, {"y": 5}, {"y": 6}, {"y": 10}, {"y": 11}, {"y": 12}],
 "f6t": [{"t": "TJ = - 40°C", "x": 8.1, "y": 14.6}, {"t": "25°C", "x": 8.07, "y": 13.5}, {"t": "125°C", "x": 8.02, "y": 12.7}],
 "f6l": [{"x": 8.47, "x2": 8.95, "y": 14.6, "y2": 14.45}, {"x": 8.28, "x2": 8.85, "y": 13.5, "y2": 13.4}, {"x": 8.27, "x2": 8.75, "y": 12.7, "y2": 12.15}],
 "f6c": [
  {"s": "-40", "x": 4.6, "y": 0}, {"s": "-40", "x": 5.0, "y": 0.15}, {"s": "-40", "x": 5.5, "y": 0.6}, {"s": "-40", "x": 6.0, "y": 1.4}, {"s": "-40", "x": 6.5, "y": 2.9}, {"s": "-40", "x": 7.0, "y": 4.85}, {"s": "-40", "x": 7.43, "y": 6.95}, {"s": "-40", "x": 8.0, "y": 9.9}, {"s": "-40", "x": 8.5, "y": 12.4}, {"s": "-40", "x": 9.1, "y": 15.35},
  {"s": "25", "x": 4.45, "y": 0}, {"s": "25", "x": 5.0, "y": 0.35}, {"s": "25", "x": 5.5, "y": 1.0}, {"s": "25", "x": 6.0, "y": 1.9}, {"s": "25", "x": 6.5, "y": 3.35}, {"s": "25", "x": 7.0, "y": 5.1}, {"s": "25", "x": 7.43, "y": 6.95}, {"s": "25", "x": 8.0, "y": 9.6}, {"s": "25", "x": 8.5, "y": 12.05}, {"s": "25", "x": 9.1, "y": 14.5},
  {"s": "125", "x": 4.3, "y": 0}, {"s": "125", "x": 4.5, "y": 0.05}, {"s": "125", "x": 5.0, "y": 0.6}, {"s": "125", "x": 5.5, "y": 1.4}, {"s": "125", "x": 6.0, "y": 2.45}, {"s": "125", "x": 6.5, "y": 3.9}, {"s": "125", "x": 7.0, "y": 5.4}, {"s": "125", "x": 7.43, "y": 6.95}, {"s": "125", "x": 8.0, "y": 9.2}, {"s": "125", "x": 8.5, "y": 11.2}, {"s": "125", "x": 9.1, "y": 13.3}
 ]
},
"config": {
 "view": {"stroke": null},
 "font": "Liberation Sans",
 "axis": {"grid": false, "domain": false, "ticks": true, "tickColor": "black", "tickSize": 3, "tickWidth": 1, "labelFont": "Liberation Sans", "labelFontSize": 7, "labelColor": "black", "labelOverlap": false, "labelFlush": false, "titleFont": "Liberation Sans", "titleFontSize": 7.5, "titleFontWeight": "normal", "titleColor": "black"},
 "axisX": {"labelPadding": 1, "titlePadding": 4},
 "axisY": {"labelPadding": 3, "titlePadding": 5},
 "title": {"font": "Liberation Sans", "fontSize": 9.5, "fontWeight": "bold", "color": "black", "offset": 4, "frame": "group", "lineHeight": 11, "anchor": "middle", "baseline": "bottom"},
 "text": {"font": "Liberation Sans", "fontSize": 7, "color": "black"}
}
}
